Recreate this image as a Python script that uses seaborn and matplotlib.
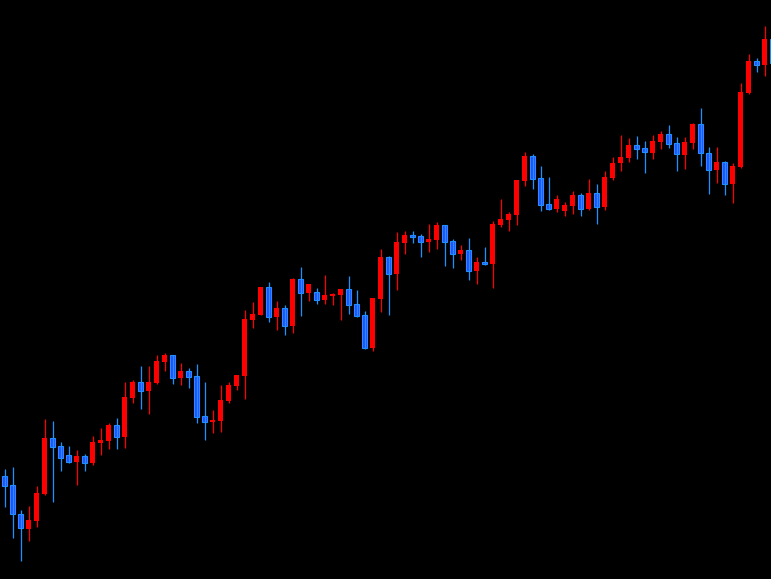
import numpy as np
import pandas as pd
import matplotlib
matplotlib.use('Agg')
import matplotlib.pyplot as plt
import seaborn as sns

# ─── Data (price units) ──────────────────────────────────────
opens = [104, 95, 66, 51.3, 59.3, 86, 142, 134, 125, 118.3,
         124, 117, 137.3, 139.3, 155, 143, 182.3, 198, 189.3, 197,
         218.3, 225, 202.3, 209, 204, 164, 158.3, 159, 179.3, 194.3,
         204.3, 260.3, 265.3, 293, 263.3, 272, 254.3, 301, 287.3, 288,
         280.3, 284.3, 285.3, 291, 276, 265, 232.3, 281.3, 323, 306.3,
         337, 345, 344, 338, 340.3, 355, 339, 326.3, 330, 309.3,
         318, 316.3, 355.3, 360.3, 365.3, 399.3, 424, 402, 376, 371.3,
         369.3, 374.3, 385, 371.3, 387, 373.3, 402.3, 416.7, 422.3, 435,
         432, 427.3, 438.3, 446, 437, 425.3, 437.3, 456, 427, 410.3,
         418, 396.3, 413.3, 487, 519, 515.3, 541]
highs = [111, 113, 70, 74, 94, 161, 159, 138, 134, 130,
         126, 144, 152, 157, 162, 198, 200, 214, 214, 225,
         227, 225, 217, 212, 216, 198, 170, 195, 198, 205,
         270, 278, 293, 298, 279, 275, 302, 313, 296, 292,
         305, 287, 291, 304, 290, 269, 282, 331, 324, 348,
         349, 349, 346, 356, 358, 355, 340.7, 335, 342, 323,
         333, 359, 381, 368, 400, 428, 426, 414, 403, 385,
         378, 389, 387, 401, 396, 409, 423, 445, 442, 444,
         439, 445, 449, 455, 443, 443, 457, 472, 433, 433,
         419, 416.7, 497, 526, 522, 554, 544]
lows = [73.3, 42.3, 19.3, 39.3, 53.3, 85, 78.3, 109.3, 117, 95.3,
        109.3, 115.3, 125, 131.3, 131.3, 132.3, 177.3, 171.3, 166.3, 196,
        209, 196.3, 195, 192.3, 157.3, 140.3, 147.3, 148.3, 177.3, 190.3,
        181.3, 252.3, 265.3, 258.3, 250.3, 245.3, 247.3, 264.3, 279.3, 276.3,
        276.3, 275.3, 260.3, 266.3, 263.3, 231.3, 229.3, 268.3, 265.3, 290.3,
        326.3, 337, 323.3, 328.3, 331, 314.3, 312.3, 320.3, 300.3, 296.3,
        315.3, 292.3, 353.3, 349.3, 355.3, 394.3, 391.3, 369.3, 370, 368.3,
        364.3, 366.3, 364.3, 370, 356.3, 370.3, 400, 409.3, 418.3, 421.3,
        407.3, 421.3, 431.3, 432.3, 409.3, 411, 431.3, 414.3, 386.3, 397.3,
        385.3, 377.3, 412, 486.3, 508, 504.3, 514]
closes = [94.3, 65.7, 51.7, 60, 87, 142, 133.3, 122.3, 118.3, 124,
          117.3, 138, 140.3, 155, 143.3, 183, 198, 189.3, 198, 219,
          225, 202.3, 209, 203.3, 163.3, 158.3, 160, 180, 195, 205,
          261, 266, 293, 263.3, 272, 254.3, 301, 287.3, 296, 280.3,
          285, 286, 291, 275.3, 264.3, 232.3, 282, 323, 306.3, 338,
          345, 343.3, 338.3, 341, 355, 338.3, 326.3, 330.3, 309.3, 318,
          316.3, 356, 361, 366, 400, 424, 401.3, 375.3, 371.3, 381,
          375, 385, 371.3, 387, 373.3, 403, 417, 423, 435, 431.3,
          427.7, 439, 446, 436.3, 425.7, 438, 456, 426.7, 410.3, 418,
          396.3, 414.3, 488, 519, 515.3, 541, 517.3]

UP_COLOR   = '#ff0000'
DOWN_FILL  = '#3346ff'
DOWN_EDGE  = '#1e90ff'

# ─── Frame ───────────────────────────────────────────────────
df = pd.DataFrame({'open': opens, 'high': highs, 'low': lows, 'close': closes})
df['idx'] = np.arange(len(df))
df['up'] = df['close'] >= df['open']

sns.set_theme(style='dark', rc={'axes.facecolor': 'black',
                                'figure.facecolor': 'black'})

fig = plt.figure(figsize=(7.71, 5.79), dpi=100)
ax = fig.add_axes([0, 0, 1, 1])
ax.set_facecolor('black')

up = df[df['up']]
dn = df[~df['up']]

# wicks
ax.vlines(up['idx'], up['low'], up['high'], color=UP_COLOR, lw=0.9)
ax.vlines(dn['idx'], dn['low'], dn['high'], color=DOWN_EDGE, lw=0.9)

# bodies
ax.bar(up['idx'], (up['close'] - up['open']).clip(lower=0.8), bottom=up['open'],
       width=0.62, color=UP_COLOR, linewidth=0)
ax.bar(dn['idx'], (dn['open'] - dn['close']).clip(lower=0.8), bottom=dn['close'],
       width=0.52, color=DOWN_FILL, edgecolor=DOWN_EDGE, linewidth=0.8)

ax.set_xlim(-0.5625, -0.5625 + 771 / 8)
ax.set_ylim(1, 580)
ax.axis('off')

plt.savefig('out.png', dpi=100, facecolor='black')
plt.close()
